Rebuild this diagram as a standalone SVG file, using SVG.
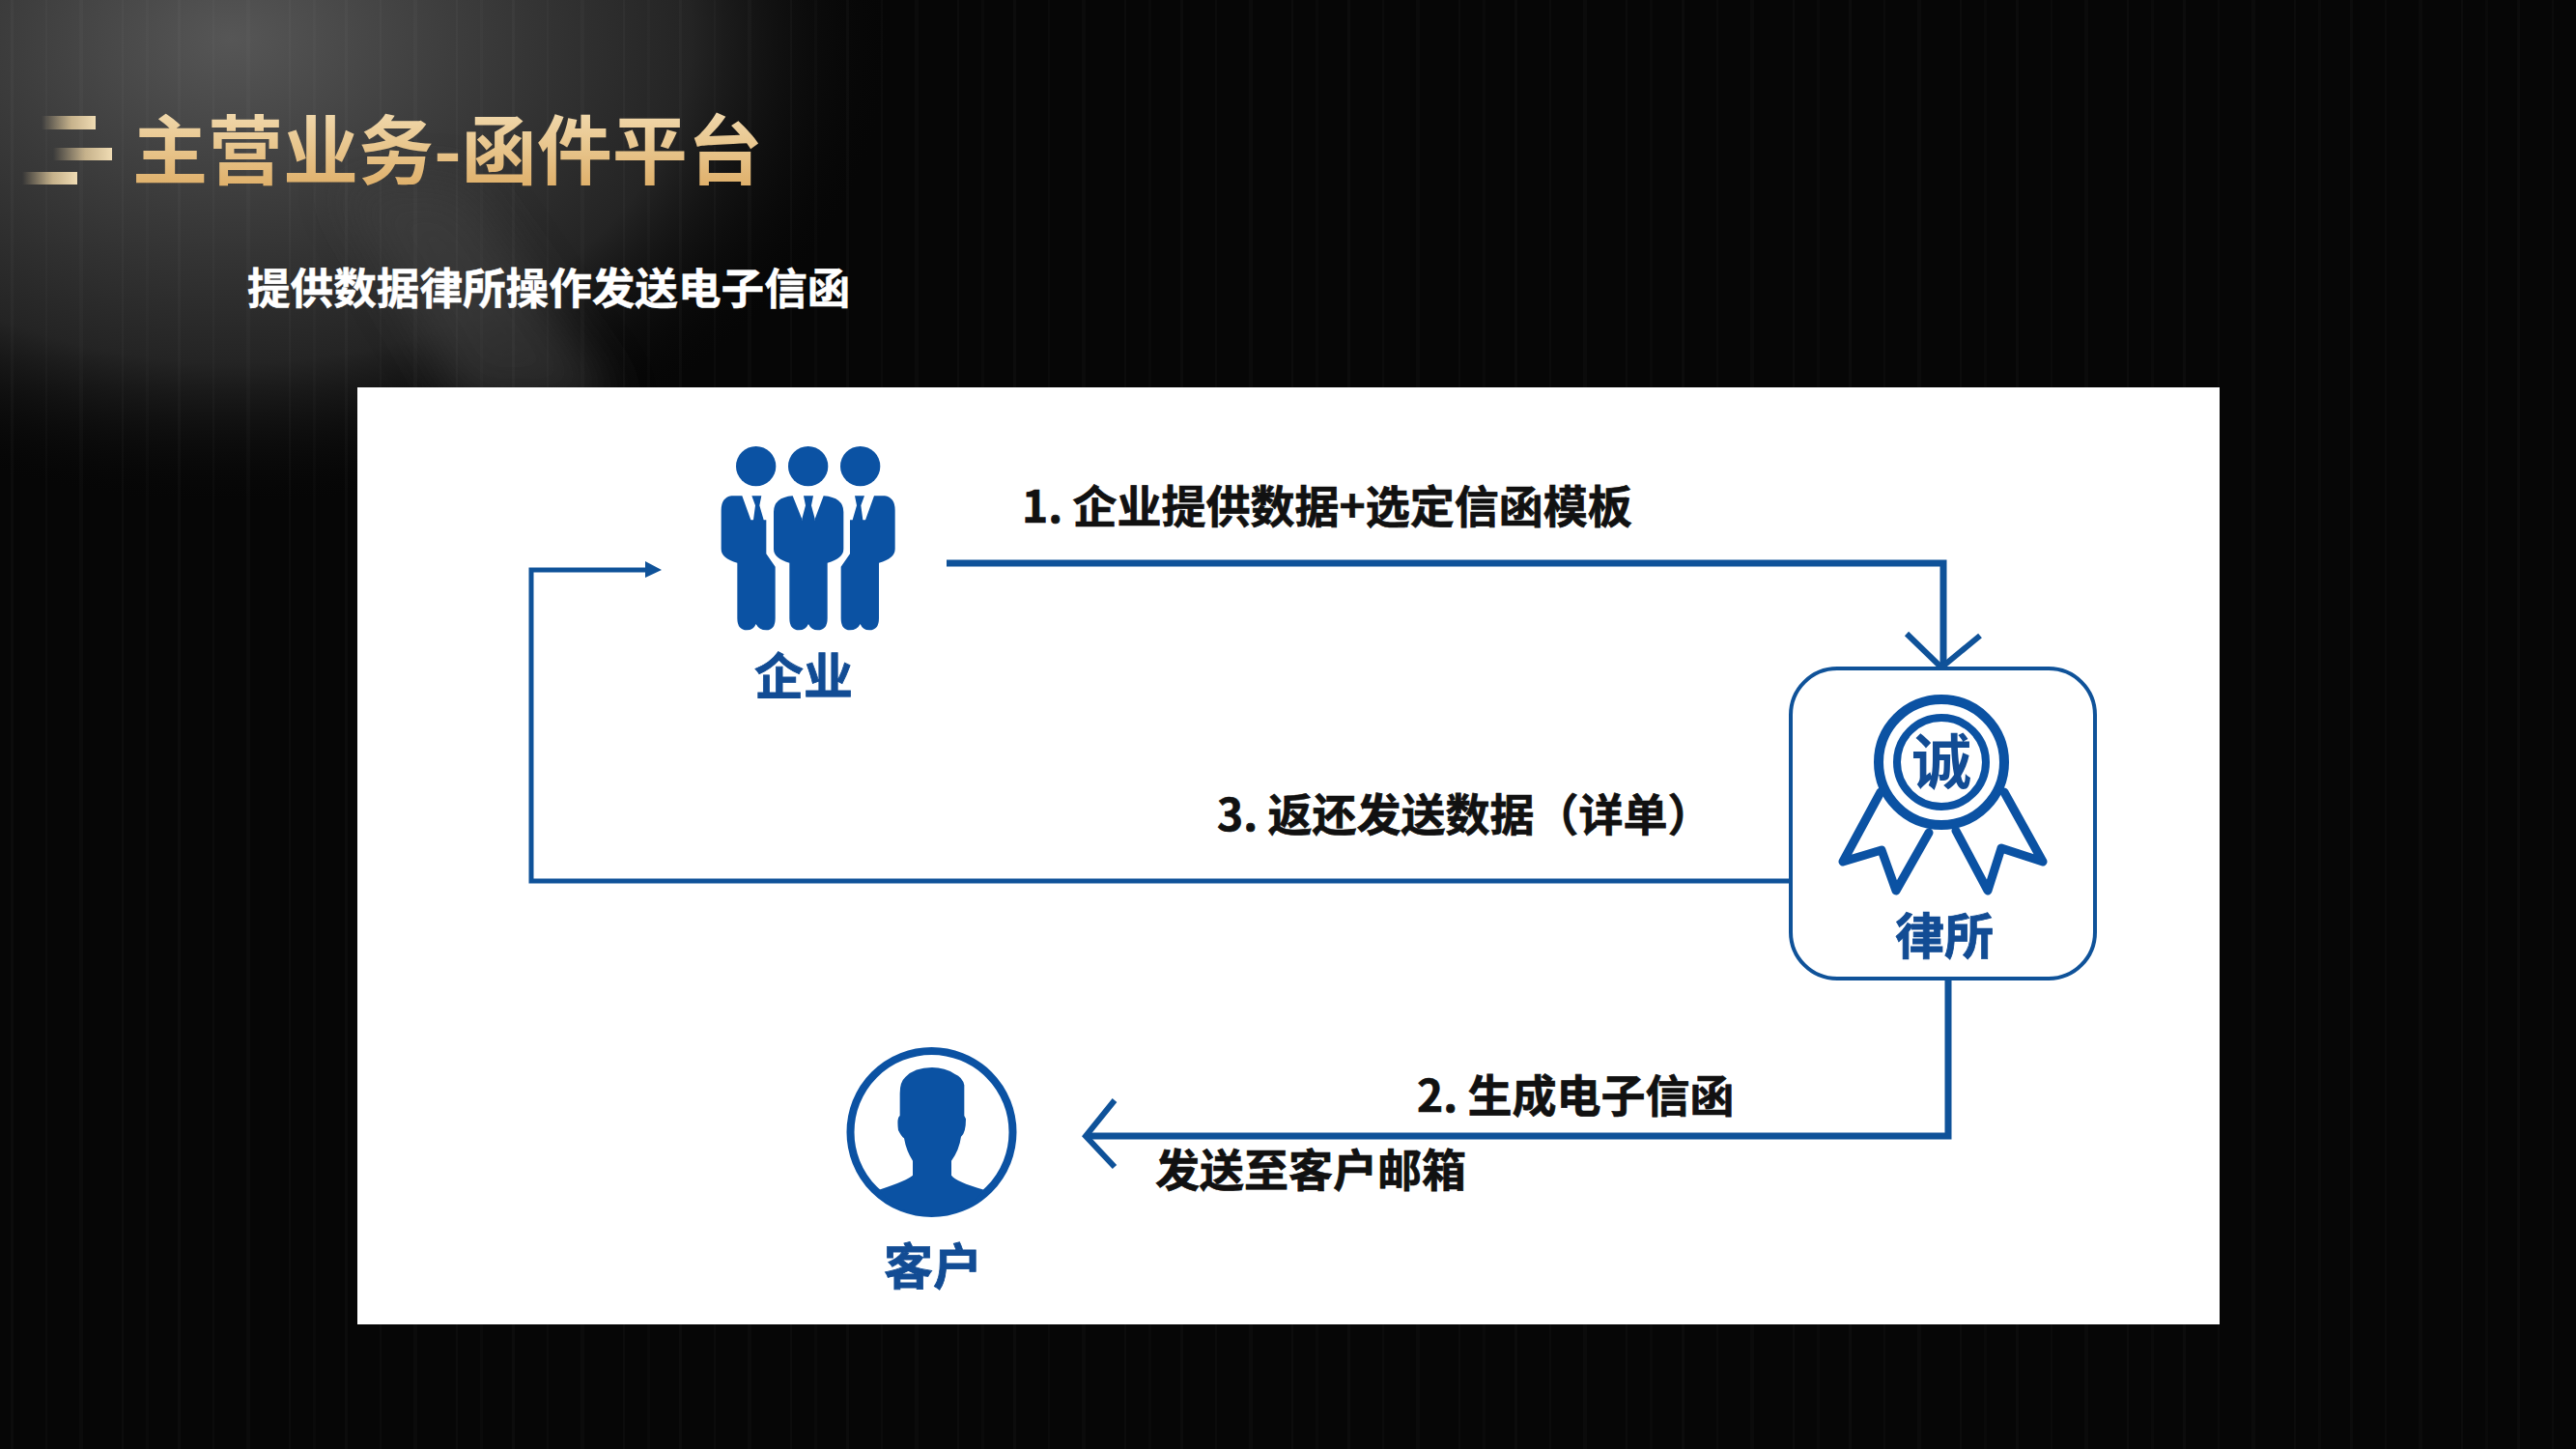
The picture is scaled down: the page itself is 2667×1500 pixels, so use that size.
<svg xmlns="http://www.w3.org/2000/svg" width="2667" height="1500" viewBox="0 0 2667 1500">
  <defs>
    <style>
      text { font-family: "Noto Sans CJK SC", "Noto Sans", sans-serif; font-weight: 700; }
      .title { font-size: 78px; fill: url(#gold); font-weight: 700; }
      .sub { font-size: 44.6px; fill: #ffffff; stroke: #ffffff; stroke-width: .5px; }
      .lbl { font-size: 46px; fill: #111111; stroke: #111111; stroke-width: .7px; }
      .node { font-size: 51px; fill: #124c94; stroke: #124c94; stroke-width: .8px; text-anchor: middle; }
      .ln { fill: none; stroke: #0f5299; stroke-linejoin: miter; }
      .blue { fill: #0b52a3; }
    </style>
    <linearGradient id="gold" x1="0" y1="0" x2="0" y2="1">
      <stop offset="0" stop-color="#f5e3bd"/>
      <stop offset="1" stop-color="#dca95f"/>
    </linearGradient>
    <linearGradient id="barFade" x1="0" y1="0" x2="1" y2="0">
      <stop offset="0" stop-color="#e8cf9f" stop-opacity="0"/>
      <stop offset="0.55" stop-color="#e8cf9f" stop-opacity="0.8"/>
      <stop offset="1" stop-color="#f0dcb4"/>
    </linearGradient>
    <radialGradient id="glow" gradientUnits="userSpaceOnUse" cx="0" cy="0" r="1" gradientTransform="translate(240 40) scale(680 480)">
      <stop offset="0" stop-color="#565656"/>
      <stop offset="0.35" stop-color="#3c3c3c"/>
      <stop offset="0.7" stop-color="#242424"/>
      <stop offset="1" stop-color="#0a0a0a" stop-opacity="0"/>
    </radialGradient>
    <pattern id="streaks" width="173" height="1500" patternUnits="userSpaceOnUse">
      <rect x="11" width="3" height="1500" fill="#fff" opacity=".025"/>
      <rect x="47" width="2" height="1500" fill="#fff" opacity=".018"/>
      <rect x="82" width="4" height="1500" fill="#fff" opacity=".02"/>
      <rect x="126" width="2" height="1500" fill="#fff" opacity=".025"/>
      <rect x="151" width="3" height="1500" fill="#fff" opacity=".015"/>
    </pattern>
    <filter id="blur" x="-50%" y="-50%" width="200%" height="200%"><feGaussianBlur stdDeviation="24"/></filter>
    <path id="sideFigure" d="M172,250Q140,255 140,295V415Q140,445 190,458V630Q190,667 220,667Q240,667 248,648Q258,667 280,667Q308,667 308,630V470L280,430V325H232L205,250ZM235,250H265L259,280L272,325H240L246,280Z"/>
  </defs>

  <g id="background">
    <rect width="2667" height="1500" fill="#060606"/>
    <rect width="1000" height="560" fill="url(#glow)"/>
    <polygon points="350,190 480,190 640,420 480,420" fill="#404040" opacity=".6" filter="url(#blur)"/>
    <rect width="2667" height="1500" fill="url(#streaks)"/>
  </g>

  <g id="header">
    <rect x="43" y="120" width="56" height="14" fill="url(#barFade)"/>
    <rect x="55" y="153" width="61" height="13" fill="url(#barFade)"/>
    <rect x="23" y="178" width="57" height="13" fill="url(#barFade)"/>
    <text class="title" x="137" y="185">主营业务-函件平台</text>
    <text class="sub" x="256" y="315">提供数据律所操作发送电子信函</text>
  </g>

  <rect id="panel" x="370" y="401" width="1928" height="970" fill="#ffffff"/>

  <g id="connectors">
    <path class="ln" stroke-width="7" d="M980,583H2012V690"/>
    <path class="ln" stroke-width="6" d="M1974,656L2010,691L2050,658"/>
    <path class="ln" stroke-width="5" d="M1853,912H550V590H672"/>
    <polygon points="668,581 685,590 668,598" fill="#0f5299"/>
    <path class="ln" stroke-width="7" d="M2017,1013V1176H1124"/>
    <path class="ln" stroke-width="6" d="M1154,1139L1124,1176L1154,1208"/>
  </g>

  <g id="node-enterprise">
    <g transform="translate(700 430) scale(.33333)" class="blue">
      <circle cx="248" cy="158" r="62"/>
      <circle cx="410" cy="158" r="62"/>
      <circle cx="572" cy="158" r="62"/>
      <use href="#sideFigure"/>
      <use href="#sideFigure" transform="translate(820 0) scale(-1 1)"/>
      <path d="M362,250Q303,255 303,300V415Q303,445 352,458V630Q352,667 382,667Q402,667 411,648Q420,667 440,667Q470,667 470,630V458Q520,445 520,415V300Q520,255 458,250L430,325H392ZM396,250H426L420,280L432,325H390L402,280Z"/>
    </g>
    <text class="node" x="832" y="719">企业</text>
  </g>

  <g id="node-lawfirm">
    <rect x="1854" y="692" width="315" height="321" rx="48" fill="#ffffff" stroke="#0f5299" stroke-width="4"/>
    <circle cx="2010" cy="789" r="65" fill="none" stroke="#0b52a3" stroke-width="10"/>
    <circle cx="2010" cy="789" r="46" fill="none" stroke="#0b52a3" stroke-width="8"/>
    <text x="2010" y="812" font-size="62" fill="#124c94" text-anchor="middle">诚</text>
    <path fill="none" stroke="#0b52a3" stroke-width="9" stroke-linejoin="round" stroke-linecap="round" d="M1947,820L1908,892L1948,880L1963,922L1997,862M2075,820L2115,892L2072,878L2058,922L2025,860"/>
    <text class="node" x="2013" y="988">律所</text>
  </g>

  <g id="node-client">
    <circle cx="964.500" cy="1172" r="84" fill="#ffffff" stroke="#0b52a3" stroke-width="8"/>
    <path class="blue" transform="translate(850 1060) scale(.33333)" d="M345,135Q290,135 262,165Q245,180 245,215V285Q235,290 240,330Q250,350 258,355Q265,395 285,425V470Q270,485 180,515Q240,595 343,595Q450,595 505,515Q420,490 405,470V425Q430,390 435,350Q450,340 450,295L445,285V190Q440,165 415,155Q385,135 345,135Z"/>
    <text class="node" x="966" y="1330">客户</text>
  </g>

  <g id="labels">
    <text class="lbl" x="1058" y="541">1. 企业提供数据+选定信函模板</text>
    <text class="lbl" x="1260" y="860">3. 返还发送数据（详单）</text>
    <text class="lbl" x="1467" y="1151">2. 生成电子信函</text>
    <text class="lbl" x="1196" y="1228">发送至客户邮箱</text>
  </g>
</svg>
